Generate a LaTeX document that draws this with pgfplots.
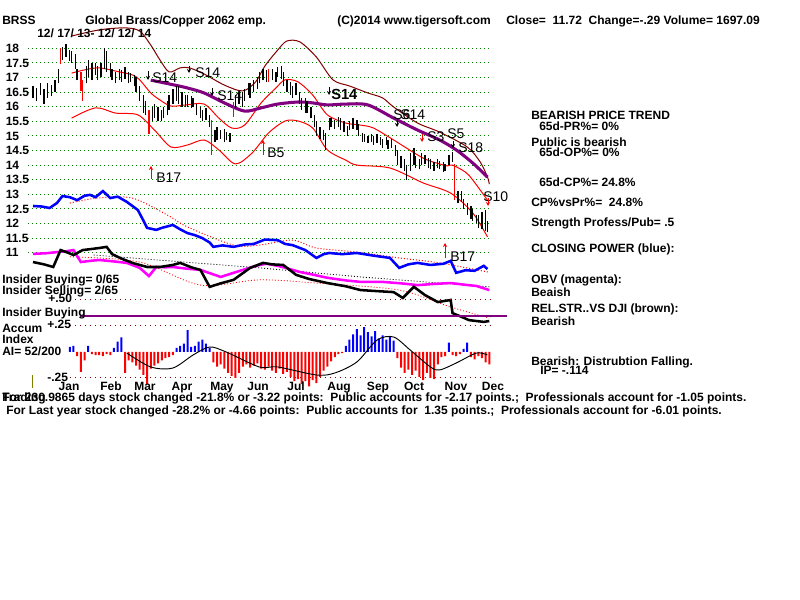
\documentclass[border=0pt]{standalone}
\usepackage{fontspec}
\setmainfont{Liberation Sans}
\usepackage{pgfplots}
\pgfplotsset{compat=1.18}
\usepackage{pgfplotstable}
\usetikzlibrary{arrows.meta}

\definecolor{tgreen}{RGB}{0,128,0}
\definecolor{tbrown}{RGB}{128,0,0}
\definecolor{tpurple}{RGB}{128,0,128}
\definecolor{tmag}{RGB}{255,0,255}
\definecolor{tblue}{RGB}{0,0,255}
\definecolor{tred}{RGB}{255,0,0}
\definecolor{tolive}{RGB}{128,128,0}

% daily bars, x = trading day since 12/17/13
\pgfplotstableread{
d lo hi
0 16.3 16.7
2 16.2 16.65
4 16.4 16.8
6 16.1 16.6
8 16.3 16.8
10 16.35 16.75
12 16.5 16.9
14 16.8 17.3
16 17.6 18.05
18 17.7 18.15
20 17.55 17.95
21 17.5 17.9
23 17.3 17.8
24 16.9 17.3
29 16.8 17.4
30 17.0 17.6
32 16.9 17.5
34 17.1 17.5
35 16.9 17.4
37 17.0 17.5
39 17.3 18.0
40 17.2 17.9
42 17.0 17.5
43 16.9 17.3
45 16.8 17.2
47 16.9 17.3
48 16.85 17.25
50 16.95 17.35
52 16.8 17.2
53 16.85 17.15
55 16.7 17.1
56 16.5 17.0
58 16.2 16.7
60 15.8 16.4
61 15.7 16.2
65 15.5 16.0
66 15.6 16.1
68 15.5 16.0
70 15.5 15.9
71 15.6 16.0
73 15.7 16.2
74 15.9 16.4
76 16.1 16.6
78 16.2 16.7
79 16.1 16.7
81 16.0 16.5
83 16.0 16.4
84 16.0 16.4
86 15.95 16.35
87 16.0 16.3
89 15.7 16.1
91 15.6 16.0
92 15.5 15.9
94 15.55 15.95
96 15.3 15.7
99 14.8 15.2
100 14.85 15.3
102 14.9 15.2
104 14.8 15.25
105 14.85 15.15
107 14.8 15.1
110 15.95 16.4
112 16.1 16.5
114 16.0 16.5
115 16.2 16.6
117 16.4 16.8
118 16.3 16.8
120 16.5 16.9
122 16.6 17.0
123 16.8 17.2
125 16.9 17.3
127 16.85 17.25
130 16.9 17.3
132 16.85 17.2
133 17.0 17.35
135 16.95 17.4
136 16.7 17.2
138 16.5 16.9
140 16.4 16.85
141 16.3 16.7
143 16.4 16.8
145 16.1 16.5
146 15.9 16.3
148 15.8 16.3
149 15.8 16.2
151 15.6 16.0
153 15.3 15.7
154 15.0 15.5
156 14.9 15.3
158 14.85 15.2
159 14.5 15.1
161 15.2 15.6
162 15.3 15.6
164 15.25 15.55
166 15.3 15.65
167 15.2 15.6
169 15.15 15.5
171 15.0 15.35
172 15.2 15.5
174 15.25 15.6
176 15.2 15.55
177 15.0 15.4
179 14.8 15.1
180 14.8 15.05
182 14.75 15.0
184 14.8 15.05
185 14.7 15.0
187 14.75 15.05
189 14.7 14.95
190 14.6 14.9
192 14.7 14.95
193 14.55 14.85
195 14.6 14.9
197 14.3 14.7
198 14.0 14.5
200 13.9 14.3
202 13.8 14.2
203 13.5 14.0
205 13.8 14.4
207 14.0 14.6
208 13.9 14.3
210 13.85 14.2
211 14.0 14.4
213 14.05 14.35
215 13.9 14.25
216 13.85 14.2
218 13.8 14.1
220 13.9 14.2
221 13.85 14.15
223 13.75 14.1
224 13.8 14.05
226 14.0 14.35
228 14.1 14.45
231 12.7 13.1
233 12.75 13.1
234 12.5 12.85
236 12.3 12.7
238 12.15 12.6
239 12.1 12.5
241 12.0 12.3
242 11.85 12.3
244 11.8 12.4
246 11.75 12.45
247 11.7 12.1
}\pricebars

\pgfplotstableread{
d lo hi
15 17.45 18.0
26 16.55 17.2
27 16.2 16.9
63 15.05 15.9
97 14.35 15.55
109 15.65 16.15
128 16.85 17.3
229 12.8 14.05
}\redbars

% accumulation index
\pgfplotstableread{
d ai
20 0.05
22 0.06
24 -0.04
26 -0.19
28 -0.08
30 0.06
32 -0.02
34 -0.03
36 -0.03
38 -0.04
40 -0.02
42 -0.03
44 0.04
46 0.10
48 0.14
50 -0.20
52 -0.08
54 -0.10
56 -0.13
58 -0.17
60 -0.22
62 -0.31
64 -0.16
66 -0.13
68 -0.11
70 -0.08
72 -0.06
74 -0.05
76 -0.03
78 0.04
80 0.06
82 0.08
84 0.21
86 0.05
88 0.06
90 0.10
92 0.12
94 0.08
96 0.04
98 -0.10
100 -0.14
102 -0.12
104 -0.16
106 -0.20
108 -0.23
110 -0.25
112 -0.20
114 -0.14
116 -0.12
118 -0.15
120 -0.13
122 -0.11
124 -0.16
126 -0.17
128 -0.14
130 -0.18
132 -0.20
134 -0.16
136 -0.21
138 -0.19
140 -0.24
142 -0.28
144 -0.26
146 -0.31
148 -0.28
150 -0.33
152 -0.27
154 -0.30
156 -0.24
158 -0.18
160 -0.14
162 -0.09
164 -0.05
166 -0.02
168 -0.01
170 0.06
172 0.12
174 0.17
176 0.22
178 0.16
180 0.24
182 0.19
184 0.15
186 0.20
188 0.13
190 0.16
192 0.12
194 0.15
196 0.11
198 -0.06
200 -0.15
202 -0.20
204 -0.17
206 -0.22
208 -0.18
210 -0.24
212 -0.27
214 -0.20
216 -0.25
218 -0.26
220 -0.12
222 -0.05
224 -0.04
226 0.09
228 -0.03
230 -0.04
232 -0.02
234 0.03
236 0.09
238 -0.05
240 -0.07
242 -0.04
244 -0.06
246 -0.10
248 -0.12
}\aidata

\begin{document}
\begin{tikzpicture}[every node/.style={inner sep=0pt}]
\fill[white] (0,0) rectangle (600pt,450pt);

% ---------------- price panel (y in dollars) ----------------
\begin{axis}[at={(0,0)}, anchor=south west, scale only axis,
  width=600pt, height=450pt,
  xmin=-17.935, xmax=416.85, ymin=-0.894, ymax=19.654,
  hide axis, clip=false]
\pgfplotsinvokeforeach{11,11.5,12,12.5,13,13.5,14,14.5,15,15.5,16,16.5,17,17.5,18}{
  \draw[tgreen, line width=0.75pt, dash pattern=on 0.75pt off 2.25pt]
    (axis cs:-2.7,#1) -- (axis cs:248.5,#1);}

% bands
\addplot[tbrown, line width=0.75pt, smooth, tension=0.5] coordinates {
 (21,18.42) (36,18.63) (50,18.70) (58,18.59) (64,18.11) (69,17.60) (74,17.19)
 (80,17.33) (85,17.33) (93,17.12) (104,16.74) (114,16.54) (121,16.85) (126,17.39)
 (133,17.94) (138,18.25) (145,18.22) (154,17.70) (163,16.92) (172,16.71) (182,16.47)
 (190,16.30) (196,15.99) (209,15.44) (221,15.13) (236,14.62) (243,14.11) (247,13.59) (248,13.35)};
\addplot[tred, line width=0.75pt, smooth, tension=0.5] coordinates {
 (21,17.15) (28,17.26) (36,17.33) (47,17.19) (54,17.09) (58,16.92) (64,16.47)
 (69,16.23) (75,16.02) (83,16.06) (93,16.09) (101,15.61) (108,15.27) (115,15.37)
 (124,16.13) (132,16.64) (137,16.92) (144,16.85) (152,16.40) (160,15.72) (170,15.44)
 (178,15.37) (185,15.27) (196,14.86) (212,14.24) (221,14.04) (225,13.97) (228,14.00)
 (235,13.76) (239,13.49) (247,12.80)};
\addplot[tred, line width=0.75pt, smooth, tension=0.5] coordinates {
 (21,15.61) (34,15.96) (45,15.78) (57,15.72) (66,15.20) (75,14.62) (84,14.69)
 (93,14.86) (101,14.52) (110,14.04) (119,14.41) (128,15.10) (137,15.51) (144,15.51)
 (152,15.27) (160,14.52) (170,14.17) (176,14.00) (194,13.90) (212,13.39) (227,13.04)
 (239,12.36) (247,11.54)};
\addplot[tpurple, line width=2.3pt, smooth, tension=0.5] coordinates {
 (64,16.91) (77,16.74) (84,16.64) (93,16.47) (104,16.13) (115,15.85) (124,15.96)
 (133,16.09) (144,16.16) (152,16.13) (160,16.06) (170,16.09) (182,16.06) (196,15.61)
 (209,15.20) (221,14.86) (230,14.52) (239,14.07) (247,13.59)};

% price bars (low to high)
\addplot[draw=none, mark=none, forget plot, error bars/.cd, y dir=plus, y explicit,
  error mark=none, error bar style={draw=black, solid, line width=1pt}]
  table[x=d, y=lo, y error expr=\thisrow{hi}-\thisrow{lo}] {\pricebars};
\addplot[draw=none, mark=none, forget plot, error bars/.cd, y dir=plus, y explicit,
  error mark=none, error bar style={draw=tred, solid, line width=1pt}]
  table[x=d, y=lo, y error expr=\thisrow{hi}-\thisrow{lo}] {\redbars};

% closing power, its average, OBV and relative strength
\addplot[tred, line width=0.75pt, dash pattern=on 0.75pt off 1.5pt, smooth] coordinates {
 (20,12.70) (35,12.87) (54,12.87) (73,12.29) (84,11.88) (109,11.26) (123,11.26)
 (141,11.43) (154,11.16) (176,11.02) (199,10.82) (221,10.65) (248,10.33)};
\addplot[tblue, line width=1.9pt] coordinates {
 (0,12.60) (5,12.58) (9,12.53) (13,12.70) (16,12.94) (20,12.90) (24,12.80) (28,12.95)
 (31,12.98) (34,12.90) (38,13.11) (42,12.87) (46,12.92) (51,12.74) (57,12.46)
 (60,12.10) (62,11.85) (67,11.78) (70,11.85) (76,11.95) (80,11.80) (84,11.67)
 (88,11.60) (92,11.50) (96,11.35) (98,11.20) (103,11.25) (109,11.20) (115,11.28)
 (120,11.30) (126,11.45) (133,11.43) (137,11.30) (141,11.26) (148,11.09) (154,10.82)
 (158,10.95) (161,10.99) (168,10.95) (176,10.99) (185,10.90) (194,10.82) (199,10.48)
 (204,10.60) (209,10.65) (216,10.58) (223,10.62) (227,10.72) (230,10.31) (235,10.40)
 (240,10.38) (245,10.55) (247,10.44)};
\addplot[black, line width=0.6pt, dash pattern=on 0.75pt off 1.5pt] coordinates {
 (33,10.92) (123,10.48) (178,10.17) (248,9.83)};
\addplot[tred, line width=0.6pt, dash pattern=on 0.75pt off 1.5pt, smooth] coordinates {
 (20,10.86) (58,10.68) (91,9.89) (123,10.07) (154,9.96) (199,9.72) (227,9.14) (248,8.76)};
\addplot[tmag, line width=1.9pt] coordinates {
 (0,10.96) (7,10.98) (13,11.02) (18,11.05) (22,11.09) (26,10.68) (31,10.72) (36,10.75)
 (44,10.70) (51,10.65) (58,10.48) (63,10.20) (67,10.51) (72,10.50) (76,10.51)
 (84,10.45) (91,10.41) (102,10.17) (109,10.31) (116,10.45) (123,10.58) (127,10.62)
 (133,10.55) (139,10.45) (145,10.34) (152,10.25) (160,10.14) (170,10.05) (178,10.00)
 (190,10.00) (200,9.95) (209,9.89) (218,9.93) (227,9.96) (235,9.90) (241,9.86) (248,9.72)};
\addplot[black, line width=1.9pt] coordinates {
 (0,10.68) (6,10.60) (11,10.51) (15,11.09) (19,11.00) (22,10.92) (27,11.09)
 (31,11.12) (36,11.16) (40,11.20) (43,10.95) (48,10.80) (54,10.65) (62,10.51)
 (69,10.51) (76,10.58) (80,10.65) (86,10.50) (91,10.41) (96,9.83) (102,9.95)
 (109,10.07) (118,10.48) (125,10.65) (130,10.60) (136,10.58) (143,10.24) (150,10.10)
 (160,9.96) (170,9.85) (178,9.72) (188,9.68) (196,9.65) (201,9.45) (207,9.83)
 (213,9.55) (220,9.31) (227,9.38) (228,8.93) (233,8.80) (237,8.69) (245,8.63) (248,8.66)};
\end{axis}

% ---------------- accumulation index panel ----------------
\begin{axis}[at={(0,0)}, anchor=south west, scale only axis,
  width=600pt, height=450pt,
  xmin=-17.935, xmax=416.85, ymin=-2.3846, ymax=3.3846,
  hide axis, clip=false]
\pgfplotsinvokeforeach{0.5,0.25,-0.25}{
  \draw[tbrown, line width=0.75pt, dash pattern=on 0.75pt off 3pt]
    (axis cs:20,#1) -- (axis cs:248.5,#1);}
\draw[tpurple, line width=0.8pt] (axis cs:25.5,0.346) -- (axis cs:257.6,0.346);
\addplot[ybar, bar shift=0pt, bar width=1.5pt, fill=tred, draw=none,
  restrict y to domain=-5:0] table[x=d, y=ai] {\aidata};
\addplot[ybar, bar shift=0pt, bar width=1.5pt, fill=tblue, draw=none,
  restrict y to domain=0:5] table[x=d, y=ai] {\aidata};
\addplot[black, line width=0.7pt, smooth] coordinates {
 (51,-0.01) (64,-0.144) (76,-0.154) (87,-0.029) (96,0.048) (105,0.0) (123,-0.144)
 (133,-0.144) (154,-0.221) (164,-0.202) (176,-0.096) (187,0.115) (196,0.144)
 (205,0.019) (216,-0.144) (221,-0.173) (230,-0.106) (241,-0.01) (247,-0.029)};
\end{axis}

% ---------------- texts, in pixel positions ----------------
\begin{scope}[x=0.75pt, y=-0.75pt, shift={(0pt,450pt)},
  every node/.style={inner sep=0pt, anchor=base west,
    font=\fontsize{9}{10}\selectfont\bfseries}]
\node at (2,25) {BRSS};
\node at (85,25) {Global Brass/Copper 2062 emp.};
\node at (337,25) {(C)2014 www.tigersoft.com};
\node at (506,25) {Close=\ \ 11.72\ \ Change=-.29 Volume= 1697.09};
\node at (37,38) {12/ 17/ 13- 12/ 12/ 14};

\foreach \v/\p in {18/48.3,17.5/62.9,17/77.5,16.5/92.1,16/106.7,15.5/121.3,15/135.9,
  14.5/150.5,14/165.1,13.5/179.7,13/194.3,12.5/208.9,12/223.5,11.5/238.1,11/252.7}
  \node at (5.5,\p+4.2) {\v};

\foreach \m/\x in {Jan/69,Feb/111,Mar/145,Apr/182,May/222,Jun/258,Jul/296,
  Aug/339,Sep/378,Oct/414,Nov/456,Dec/493}
  \node[anchor=base] at (\x,391) {\m};

\node at (2,284) {Insider Buying= 0/65};
\node at (2,295) {Insider Selling= 2/65};
\node at (48,303) {+.50};
\node at (2,317) {Insider Buying};
\node at (2,333) {Accum};
\node at (47,329) {+.25};
\node at (2,344) {Index};
\node at (2,356) {AI= 52/200};
\node at (47,382) {-.25};
\draw[tolive, line width=0.75pt] (32,375) -- (32,388);

\node at (531,120) {BEARISH PRICE TREND};
\node at (539,131) {65d-PR\%= 0\%};
\node at (531,147) {Public is bearish};
\node at (539,157) {65d-OP\%= 0\%};
\node at (539,187) {65d-CP\%= 24.8\%};
\node at (531,207) {CP\%vsPr\%=\ \ 24.8\%};
\node at (531,227) {Strength Profess/Pub= .5};
\node at (531,253) {CLOSING POWER (blue):};
\node at (531,284) {OBV (magenta):};
\node at (531,297) {Beaish};
\node at (531,313) {REL.STR..VS DJI (brown):};
\node at (531,326) {Bearish};
\node at (531,365.5) {Bearish: Distrubtion Falling.};
\node at (540,375) {IP= -.114};

\node at (2,402) {For 230.9865 days stock changed -21.8\% or -3.22 points:\ \ Public accounts for -2.17 points.;\ \ Professionals account for -1.05 points.};
\node at (2,402) {Trading};
\node at (6,415) {For Last year stock changed -28.2\% or -4.66 points:\ \ Public accounts for\ \ 1.35 points.;\ \ Professionals account for -6.01 points.};

% signals
\begin{scope}[every node/.style={inner sep=0pt, anchor=base west,
    font=\fontsize{10.5}{12}\selectfont}]
\node at (152,83) {S14};
\node at (195,78) {S14};
\node at (217,101) {S14};
\node[font=\fontsize{11}{12}\selectfont\bfseries] at (331,100) {S14};
\node at (393,120) {S6};
\node at (400,120) {S14};
\node at (427,142) {S3};
\node at (447,139) {S5};
\node at (458,153) {S18};
\node at (483,202) {S10};
\node at (156,183) {B17};
\node at (267,158) {B5};
\node at (450,262) {B17};
\end{scope}
\tikzset{sig/.style={-{Stealth[length=3pt,width=3pt]}, line width=0.6pt}}
\draw[sig] (148,71) -- (148,80);
\draw[sig] (189,66) -- (189,73);
\draw[sig] (212,88) -- (212,96);
\draw[sig] (329,87) -- (329,95);
\draw[sig] (397,119) -- (397,127);
\draw[sig, tred] (422,134) -- (422,142);
\draw[sig] (453,141) -- (453,148);
\draw[sig, tred] (488,198) -- (488,206);
\draw[sig, tred] (151,179) -- (151,166);
\draw[sig, tred] (263,155) -- (263,140);
\draw[sig, tred] (445,258) -- (445,243);
\end{scope}
\path (0,0) rectangle (600pt,450pt);
\end{tikzpicture}
\end{document}
